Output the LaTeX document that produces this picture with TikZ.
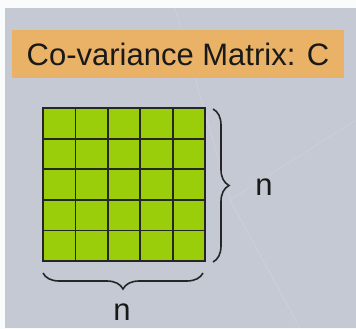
\documentclass[tikz,border=0pt]{standalone}
\usepackage{fontspec}
\setmainfont{Liberation Sans}
\usetikzlibrary{decorations.pathreplacing}
\definecolor{bg}{HTML}{C5C9D3}
\definecolor{titlebg}{HTML}{E9B266}
\definecolor{cellgreen}{HTML}{9ACD0A}
\tikzset{
  brace/.style={decorate,decoration={brace,amplitude=16pt},line width=1.6pt,draw=black!85},
  lbl/.style={font=\fontsize{31}{34}\selectfont,text=black!90,inner sep=0pt},
  gridline/.style={line width=1.8pt,black!85},
}
\begin{document}
\begin{tikzpicture}[x=1pt,y=-1pt]
\useasboundingbox (0,0) rectangle (356,329);
\fill[white!92!bg] (0,0) rectangle (356,329);
\fill[bg] (5,8) rectangle (356,328);
\draw[white,opacity=0.12,line width=1pt] (175,8) -- (230,200) -- (300,328);
\draw[white,opacity=0.1,line width=1pt] (230,200) -- (356,120);
\node[fill=titlebg,minimum width=332pt,minimum height=48pt,inner sep=0pt,
      font=\fontsize{31}{34}\selectfont,text=black!90] (title) at (178,54) {Co-variance Matrix: C};
\fill[cellgreen] (43,108) rectangle (205,261);
\draw[gridline] (43,108) rectangle (205,261);
\foreach \i in {1,...,4} {
  \draw[gridline] ({43+\i*32.4},108) -- ({43+\i*32.4},261);
  \draw[gridline] (43,{108+\i*30.6}) -- (205,{108+\i*30.6});
}
\coordinate (rt) at (213,109);
\coordinate (rb) at (213,262);
\coordinate (bl) at (43,273);
\coordinate (br) at (203,273);
\draw[brace] (rt) -- (rb);
\draw[brace] (br) -- (bl);
\node[lbl] (n1) at (264,187) {n};
\node[lbl] (n2) at (122,312) {n};
\end{tikzpicture}
\end{document}
